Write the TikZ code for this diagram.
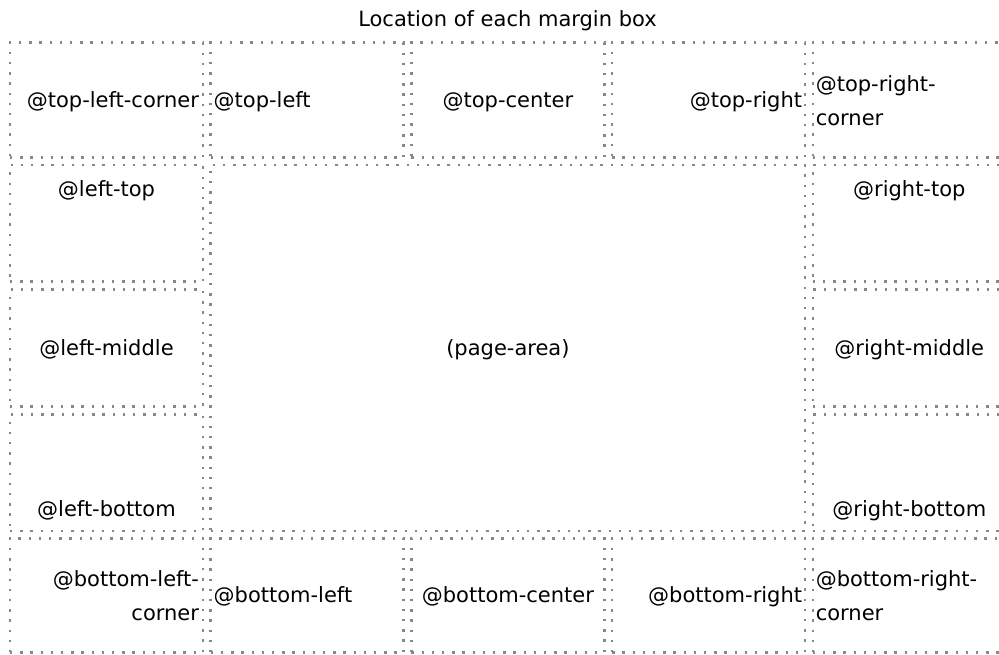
\documentclass[tikz,border=0pt]{standalone}
\usepackage{fontspec}
\setmainfont{DejaVu Sans}
\usetikzlibrary{calc}

\definecolor{dotgray}{RGB}{136,136,136}

\tikzset{
  mbox/.style={draw=dotgray, line width=2.6pt, line cap=butt,
    dash pattern=on 2.4pt off 7.8pt, inner sep=0pt, outer sep=0pt,
    minimum width=193pt, minimum height=#1},
  lbl/.style={inner sep=0pt, outer sep=0pt, text=black,
    font=\fontsize{21}{34}\selectfont},
}
% two-line label, first baseline is the node's base
\newcommand{\twoL}[2]{\begin{tabular}[t]{@{}l@{}}#1\\#2\end{tabular}}
\newcommand{\twoR}[2]{\begin{tabular}[t]{@{}r@{}}#1\\#2\end{tabular}}

\begin{document}
\begin{tikzpicture}[x=1pt, y=-1pt]
\useasboundingbox (0,0) rectangle (999,654);
\clip (0,0) rectangle (999,654);

\node[lbl, anchor=base] (title) at (507.5,26.7) {Location of each margin box};

% top row
\node[mbox=115pt] (tlc) at (106.5,100.2) {};
\node[mbox=115pt] (tl)  at (307.2,100.2) {};
\node[mbox=115pt] (tc)  at (507.9,100.2) {};
\node[mbox=115pt] (tr)  at (708.6,100.2) {};
\node[mbox=115pt] (trc) at (909.3,100.2) {};

% left column
\node[mbox=116.7pt] (lt) at (106.5,223.35) {};
\node[mbox=116.7pt] (lm) at (106.5,348) {};
\node[mbox=116.7pt] (lb) at (106.5,472.65) {};

% right column
\node[mbox=116.7pt] (rt) at (909.3,223.35) {};
\node[mbox=116.7pt] (rm) at (909.3,348) {};
\node[mbox=116.7pt] (rb) at (909.3,472.65) {};

% bottom row
\node[mbox=114.4pt] (blc) at (106.5,595.5) {};
\node[mbox=114.4pt] (bl)  at (307.2,595.5) {};
\node[mbox=114.4pt] (bc)  at (507.9,595.5) {};
\node[mbox=114.4pt] (br)  at (708.6,595.5) {};
\node[mbox=114.4pt] (brc) at (909.3,595.5) {};

% page area
\node[mbox=366pt, minimum width=594.4pt] (page) at (507.9,348) {};

% labels
\node[lbl, anchor=base east] (tlcT) at ($(tlc.east)+(-4,7)$) {@top-left-corner};
\node[lbl, anchor=base west] (tlT)  at ($(tl.west)+(3,7)$) {@top-left};
\node[lbl, anchor=base]      (tcT)  at ($(tc.center)+(0,7)$) {@top-center};
\node[lbl, anchor=base east] (trT)  at ($(tr.east)+(-3,7)$) {@top-right};
\node[lbl, anchor=base west] (trcT) at ($(trc.west)+(3,-9)$) {\twoL{@top-right-}{corner}};

\node[lbl, anchor=base] (ltT) at ($(lt.north)+(0,31)$) {@left-top};
\node[lbl, anchor=base] (lmT) at ($(lm.center)+(0,7)$) {@left-middle};
\node[lbl, anchor=base] (lbT) at ($(lb.south)+(0,-14.3)$) {@left-bottom};

\node[lbl, anchor=base] (rtT) at ($(rt.north)+(0,31)$) {@right-top};
\node[lbl, anchor=base] (rmT) at ($(rm.center)+(0,7)$) {@right-middle};
\node[lbl, anchor=base] (rbT) at ($(rb.south)+(0,-14.3)$) {@right-bottom};

\node[lbl, anchor=base east] (blcT) at ($(blc.east)+(-4,-9)$) {\twoR{@bottom-left-}{corner}};
\node[lbl, anchor=base west] (blT)  at ($(bl.west)+(3,7)$) {@bottom-left};
\node[lbl, anchor=base]      (bcT)  at ($(bc.center)+(0,7)$) {@bottom-center};
\node[lbl, anchor=base east] (brT)  at ($(br.east)+(-3,7)$) {@bottom-right};
\node[lbl, anchor=base west] (brcT) at ($(brc.west)+(3,-9)$) {\twoL{@bottom-right-}{corner}};

\node[lbl, anchor=base] (pageT) at ($(page.center)+(0,7)$) {(page-area)};
\end{tikzpicture}
\end{document}
